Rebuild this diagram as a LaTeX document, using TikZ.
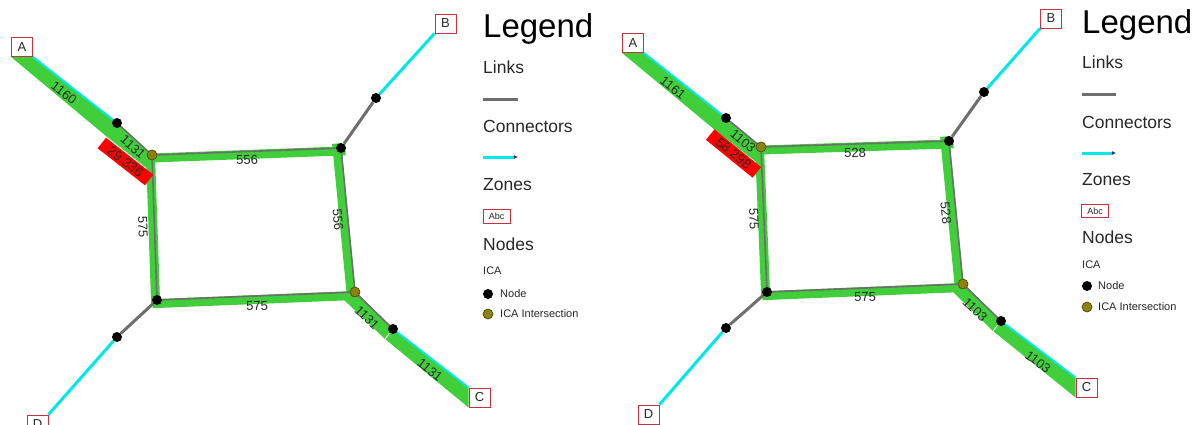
\documentclass[tikz,border=0pt]{standalone}
\usepackage{fontspec}
\setmainfont{Liberation Sans}
\usetikzlibrary{arrows.meta}
\definecolor{bandgreen}{RGB}{64,206,58}
\definecolor{linkgrey}{RGB}{110,110,110}
\definecolor{conncyan}{RGB}{0,232,232}
\definecolor{icaolive}{RGB}{140,130,20}
\definecolor{icaedge}{RGB}{80,72,0}
\definecolor{zonered}{RGB}{200,50,64}
\definecolor{arrownavy}{RGB}{30,40,130}
\definecolor{txtgrey}{RGB}{40,40,40}
\pgfdeclarelayer{canvas}
\pgfdeclarelayer{background}
\pgfsetlayers{canvas,background,main}
\begin{document}
\begin{tikzpicture}[x=1pt,y=-1pt,
  band/.style={draw=bandgreen, line width=9pt, line cap=rect},
  lnk/.style={draw=linkgrey, line width=1.6pt},
  lnkthick/.style={draw=linkgrey, line width=3pt},
  conn/.style={draw=conncyan, line width=3pt},
  connthin/.style={draw=conncyan, line width=2pt},
  nd/.style={circle, fill=black, inner sep=0pt, minimum size=10pt},
  ica/.style={circle, fill=icaolive, draw=icaedge, line width=0.7pt, inner sep=0pt, minimum size=10pt},
  zone/.style={draw=zonered, line width=0.9pt, fill=white, inner sep=0pt,
    minimum width=21pt, minimum height=19pt, font=\fontsize{13}{13}\selectfont, text=txtgrey},
  lab/.style={font=\fontsize{13}{13}\selectfont, text=txtgrey, inner sep=0pt},
  flowtag/.style={fill=red, inner sep=0pt, minimum width=60pt, minimum height=13.5pt,
    font=\fontsize{13.5}{13.5}\selectfont, text=txtgrey},
  title/.style={anchor=base west, inner sep=0pt, font=\fontsize{33}{33}\selectfont, text=black},
  heading/.style={anchor=base west, inner sep=0pt, font=\fontsize{17.5}{17.5}\selectfont, text=txtgrey},
  small/.style={anchor=base west, inner sep=0pt, font=\fontsize{11}{11}\selectfont, text=txtgrey},
  item/.style={anchor=west, inner sep=0pt, font=\fontsize{11}{11}\selectfont, text=txtgrey},
  abc/.style={zone, minimum width=27pt, minimum height=13.5pt, font=\fontsize{9}{9}\selectfont},
  legarrow/.style={conn, -{Latex[length=4pt,width=4pt,color=arrownavy]}}
]
\useasboundingbox (0,0) rectangle (1202,424);
\begin{pgfonlayer}{canvas}
  \fill[white] (0,0) rectangle (1202,424);
\end{pgfonlayer}

% ---------------- first network ----------------
\node[zone] (zAL) at (22,47) {A};
\node[zone] (zBL) at (445.5,23.5) {B};
\node[zone] (zCL) at (479.5,397.5) {C};
\node[zone] (zDL) at (37.5,424.5) {D};
\node[nd]  (n1L) at (117,123) {};
\node[ica] (i1L) at (152,155) {};
\node[nd]  (n2L) at (341,148) {};
\node[nd]  (n3L) at (376,98) {};
\node[ica] (i2L) at (355,292) {};
\node[nd]  (n4L) at (157,300) {};
\node[nd]  (n5L) at (117,337) {};
\node[nd]  (n6L) at (393,329) {};

\begin{pgfonlayer}{background}
  % flow bands
  \fill[bandgreen] (zAL.south west) -- (zAL.south east) -- (n1L.center) -- (i1L.center)
    -- (153,173) -- (106,136) -- cycle;
  \fill[bandgreen] (i2L.center) -- (n6L.center) -- (385,339) -- (343,299) -- cycle;
  \fill[bandgreen] (n6L.center) -- (zCL.north west) -- (zCL.south west) -- (385,339) -- cycle;
  \draw[white, line width=0.8pt] (n6L.center) -- (385,339);
  \draw[band] ([shift={(0,3)}]i1L.center) -- ([shift={(0,3)}]n2L.center);
  \draw[band] ([shift={(-4,0)}]n2L.center) -- ([shift={(-4,0)}]i2L.center);
  \draw[band] ([shift={(0,3.5)}]n4L.center) -- ([shift={(0,3.5)}]i2L.center);
  \draw[band] ([shift={(-1.5,0)}]i1L.center) -- ([shift={(-1.5,0)}]n4L.center);
  % links
  \draw[lnk] (n1L) -- (i1L);
  \draw[lnk] (i1L) -- (n2L);
  \draw[lnk] (n2L) -- (i2L);
  \draw[lnk] (n4L) -- (i2L);
  \draw[lnk] (i1L) -- (n4L);
  \draw[lnk] (i2L) -- (n6L);
  \draw[lnkthick] (n2L) -- (n3L);
  \draw[lnkthick] (n4L) -- (n5L);
  % connectors
  \draw[connthin] (zAL.south east) -- (n1L);
  \draw[connthin] (n6L) -- (zCL.north west);
  \draw[conn] (n3L) -- (zBL.south west);
  \draw[conn] (n5L) -- (zDL.north east);
\end{pgfonlayer}

\node[flowtag, rotate=-38] (tagL) at (125.5,161.5) {29.336};
\node[lab, rotate=-38] (l1L) at (64,93) {1160};
\node[lab, rotate=-42] (l2L) at (133,147) {1131};
\node[lab, rotate=2]   (l3L) at (247,160) {556};
\node[lab, rotate=-85] (l4L) at (338,220) {556};
\node[lab, rotate=-88] (l5L) at (143,227) {575};
\node[lab, rotate=2]   (l6L) at (257,306) {575};
\node[lab, rotate=-44] (l7L) at (367,318) {1131};
\node[lab, rotate=-39] (l8L) at (430,370) {1131};

% legend
\node[title]   (lgL) at (483,37) {Legend};
\node[heading] (lkL) at (483,73) {Links};
\coordinate (lka) at (483,99); \coordinate (lkb) at (518,99);
\draw[lnkthick] (lka) -- (lkb);
\node[heading] (cnL) at (483,132) {Connectors};
\coordinate (cna) at (483,157); \coordinate (cnb) at (518,157);
\draw[legarrow] (cna) -- (cnb);
\node[heading] (znL) at (483,190.5) {Zones};
\node[abc] (abL) at (496.5,216.5) {Abc};
\node[heading] (ndL) at (483,250) {Nodes};
\node[small] (icL) at (483,274) {ICA};
\node[nd] (lnL) at (488,294) {};
\node[item] (lntL) at (500,294) {Node};
\node[ica] (liL) at (488,314) {};
\node[item] (litL) at (500,314) {ICA Intersection};

% ---------------- second network ----------------
\node[zone] (zAR) at (633,43) {A};
\node[zone] (zBR) at (1051,18.5) {B};
\node[zone] (zCR) at (1086.5,387.5) {C};
\node[zone] (zDR) at (648.5,414.5) {D};
\node[nd]  (n1R) at (726,118) {};
\node[ica] (i1R) at (761,147) {};
\node[nd]  (n2R) at (949,141) {};
\node[nd]  (n3R) at (984,92) {};
\node[ica] (i2R) at (963,284) {};
\node[nd]  (n4R) at (767,292) {};
\node[nd]  (n5R) at (726,328) {};
\node[nd]  (n6R) at (1001,321) {};

\begin{pgfonlayer}{background}
  \fill[bandgreen] (zAR.south west) -- (zAR.south east) -- (n1R.center) -- (i1R.center)
    -- (759,164) -- (715,130) -- cycle;
  \fill[bandgreen] (i2R.center) -- (n6R.center) -- (993,331) -- (953,292) -- cycle;
  \fill[bandgreen] (n6R.center) -- (zCR.north west) -- (zCR.south west) -- (993,331) -- cycle;
  \draw[white, line width=0.8pt] (n6R.center) -- (993,331);
  \draw[band] ([shift={(0,3)}]i1R.center) -- ([shift={(0,3)}]n2R.center);
  \draw[band] ([shift={(-4,0)}]n2R.center) -- ([shift={(-4,0)}]i2R.center);
  \draw[band] ([shift={(0,3.5)}]n4R.center) -- ([shift={(0,3.5)}]i2R.center);
  \draw[band] ([shift={(-1.5,0)}]i1R.center) -- ([shift={(-1.5,0)}]n4R.center);
  \draw[lnk] (n1R) -- (i1R);
  \draw[lnk] (i1R) -- (n2R);
  \draw[lnk] (n2R) -- (i2R);
  \draw[lnk] (n4R) -- (i2R);
  \draw[lnk] (i1R) -- (n4R);
  \draw[lnk] (i2R) -- (n6R);
  \draw[lnkthick] (n2R) -- (n3R);
  \draw[lnkthick] (n4R) -- (n5R);
  \draw[connthin] (zAR.south east) -- (n1R);
  \draw[connthin] (n6R) -- (zCR.north west);
  \draw[conn] (n3R) -- (zBR.south west);
  \draw[conn] (n5R) -- (zDR.north east);
\end{pgfonlayer}

\node[flowtag, rotate=-39] (tagR) at (733.5,153.5) {58.298};
\node[lab, rotate=-38] (l1R) at (673,88) {1161};
\node[lab, rotate=-40] (l2R) at (743,141) {1103};
\node[lab, rotate=2]   (l3R) at (855,153) {528};
\node[lab, rotate=-84] (l4R) at (946,213) {528};
\node[lab, rotate=-88] (l5R) at (754,219) {575};
\node[lab, rotate=2]   (l6R) at (865,297) {575};
\node[lab, rotate=-44] (l7R) at (975,310) {1103};
\node[lab, rotate=-37] (l8R) at (1038,362) {1103};

\node[title]   (lgR) at (1082,33.5) {Legend};
\node[heading] (lkR) at (1082,68.5) {Links};
\coordinate (lkc) at (1082,94); \coordinate (lkd) at (1116,94);
\draw[lnkthick] (lkc) -- (lkd);
\node[heading] (cnR) at (1082,128) {Connectors};
\coordinate (cnc) at (1082,153); \coordinate (cnd) at (1116,153);
\draw[legarrow] (cnc) -- (cnd);
\node[heading] (znR) at (1082,185) {Zones};
\node[abc] (abR) at (1095,211) {Abc};
\node[heading] (ndR) at (1082,243) {Nodes};
\node[small] (icR) at (1082,268) {ICA};
\node[nd] (lnR) at (1087,286) {};
\node[item] (lntR) at (1098,286) {Node};
\node[ica] (liR) at (1087,307) {};
\node[item] (litR) at (1098,307) {ICA Intersection};
\end{tikzpicture}
\end{document}
